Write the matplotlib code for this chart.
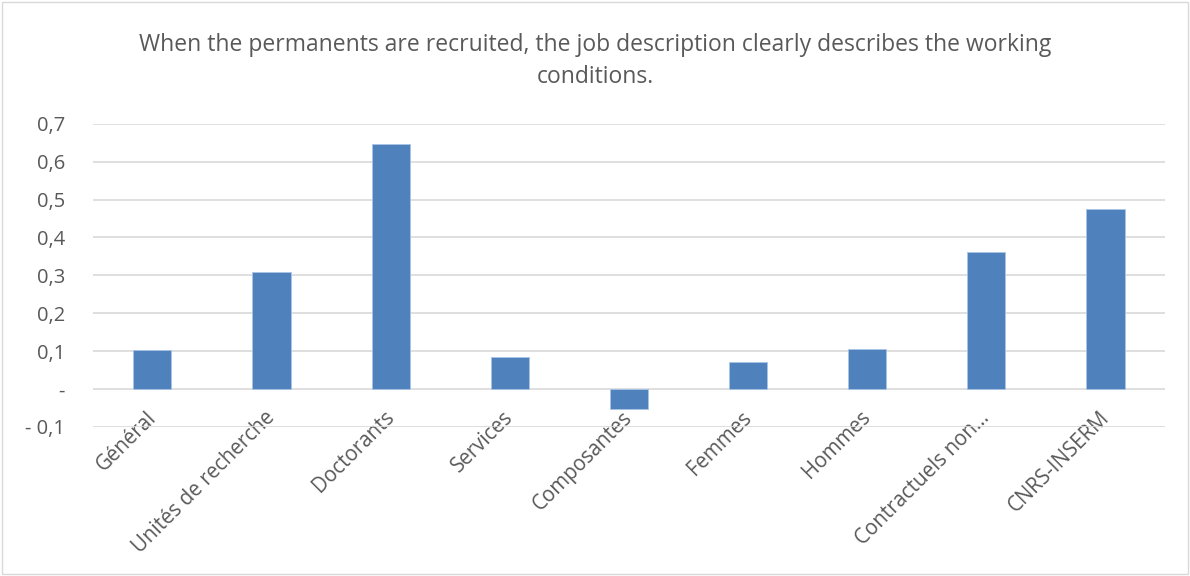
import matplotlib
matplotlib.use("Agg")
import matplotlib.pyplot as plt
from matplotlib.patches import Rectangle
from matplotlib.transforms import ScaledTranslation

plt.rcParams['font.family'] = ['Open Sans', 'DejaVu Sans']

categories = ["Général", "Unités de recherche", "Doctorants", "Services", "Composantes",
              "Femmes", "Hommes", "Contractuels non…", "CNRS-INSERM"]
values = [0.103, 0.309, 0.646, 0.085, -0.053, 0.071, 0.106, 0.361, 0.476]
yticks = [-0.1, 0, 0.1, 0.2, 0.3, 0.4, 0.5, 0.6, 0.7]
ytick_labels = ["- 0,1", "-", "0,1", "0,2", "0,3", "0,4", "0,5", "0,6", "0,7"]

title = "When the permanents are recruited, the job description clearly describes the working\nconditions."

grey = "#595959"
fig = plt.figure(figsize=(11.9, 5.76), dpi=100)
ax = fig.add_axes([0.078, 0.259, 0.901, 0.526])

x = range(len(categories))
ax.bar(x, values, width=0.32, color="#4f81bd", edgecolor="#a9c4e6", linewidth=0.6, zorder=3)

# category labels hang from the zero line, like in Excel
ax.spines['bottom'].set_position(('data', 0))
for s in ax.spines.values():
    s.set_visible(False)

ax.set_ylim(-0.1, 0.7)
ax.set_xlim(-0.5, len(categories) - 0.5)
ax.set_yticks(yticks)
ax.set_yticklabels(ytick_labels, fontsize=14.5, color=grey)
ax.set_xticks(list(x))
ax.set_xticklabels(categories, rotation=45, ha="right", rotation_mode="anchor",
                   fontsize=14.8, color=grey)
ax.tick_params(length=0)
ax.tick_params(axis="y", pad=20)
ax.tick_params(axis="x", pad=13)
shift = ScaledTranslation(-7 / 100, 0, fig.dpi_scale_trans)
for lab in ax.get_xticklabels():
    lab.set_transform(lab.get_transform() + shift)
ax.grid(axis="y", color="#d9d9d9", linewidth=1.2, zorder=0)

fig.text(0.5, 0.894, title, ha="center", va="center", fontsize=16.5, color=grey, linespacing=1.45)

fig.patches.append(Rectangle((0.002, 0.003), 0.996, 0.994, transform=fig.transFigure,
                             fill=False, edgecolor="#d9d9d9", linewidth=1))

fig.savefig("out.png", dpi=100)
